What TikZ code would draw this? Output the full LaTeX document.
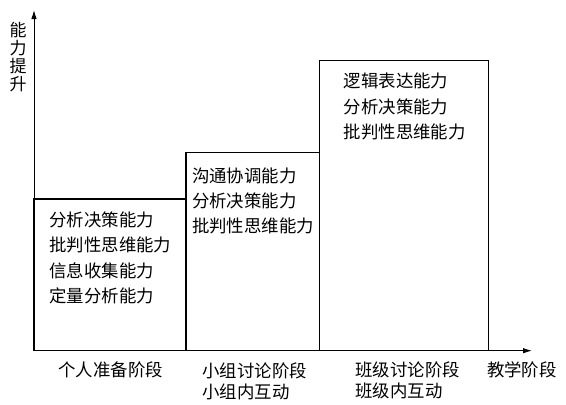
\documentclass[tikz,border=0pt]{standalone}
\usepackage{fontspec}
\setmainfont{Noto Sans CJK SC}
\usetikzlibrary{arrows.meta}
\begin{document}
\begin{tikzpicture}[x=1pt,y=-1pt,
  line width=1.1pt,
  stagebox/.style={draw, line width=1.1pt, anchor=south west, inner sep=0pt, outer sep=0pt},
  ability/.style={anchor=west, align=left, inner sep=0pt, font=\fontsize{17.4}{25.3}\selectfont},
  stagelab/.style={anchor=west, align=left, inner sep=0pt, font=\fontsize{17.4}{21}\selectfont},
  axislab/.style={inner sep=0pt, font=\fontsize{17}{21}\selectfont},
  axisarrow/.style={-{Latex[length=9pt,width=5.5pt]}, line width=1pt}]
\useasboundingbox (0,0) rectangle (566,405);
\coordinate (O) at (34,350.7);
\coordinate (ytop) at (34,10);
\coordinate (xend) at (532,350.7);
% boxes
\node[stagebox, minimum width=152pt, minimum height=151.7pt] (box1) at (34,350.7) {};
\node[stagebox, minimum width=133.3pt, minimum height=198pt] (box2) at (186,350.7) {};
\node[stagebox, minimum width=169pt, minimum height=290pt] (box3) at (319.3,350.7) {};
% axes
\draw[axisarrow] (O) -- (ytop);
\draw[axisarrow] (O) -- (xend);
% axis labels
\node[axislab, align=center, font=\fontsize{17}{18.2}\selectfont] (ylab) at (18,57) {能\\力\\提\\升};
\node[stagelab] (xlab) at (486.5,370) {教学阶段};
% ability texts
\node[ability] (t1) at (49,258) {分析决策能力\\批判性思维能力\\信息收集能力\\定量分析能力};
\node[ability] (t2) at (191.5,201) {沟通协调能力\\分析决策能力\\批判性思维能力};
\node[ability] (t3) at (343.3,106.7) {逻辑表达能力\\分析决策能力\\批判性思维能力};
% stage labels
\node[stagelab] (s1) at (58,370) {个人准备阶段};
\node[stagelab] (s2) at (202,381) {小组讨论阶段\\小组内互动};
\node[stagelab] (s3) at (355,380.5) {班级讨论阶段\\班级内互动};
\end{tikzpicture}
\end{document}
